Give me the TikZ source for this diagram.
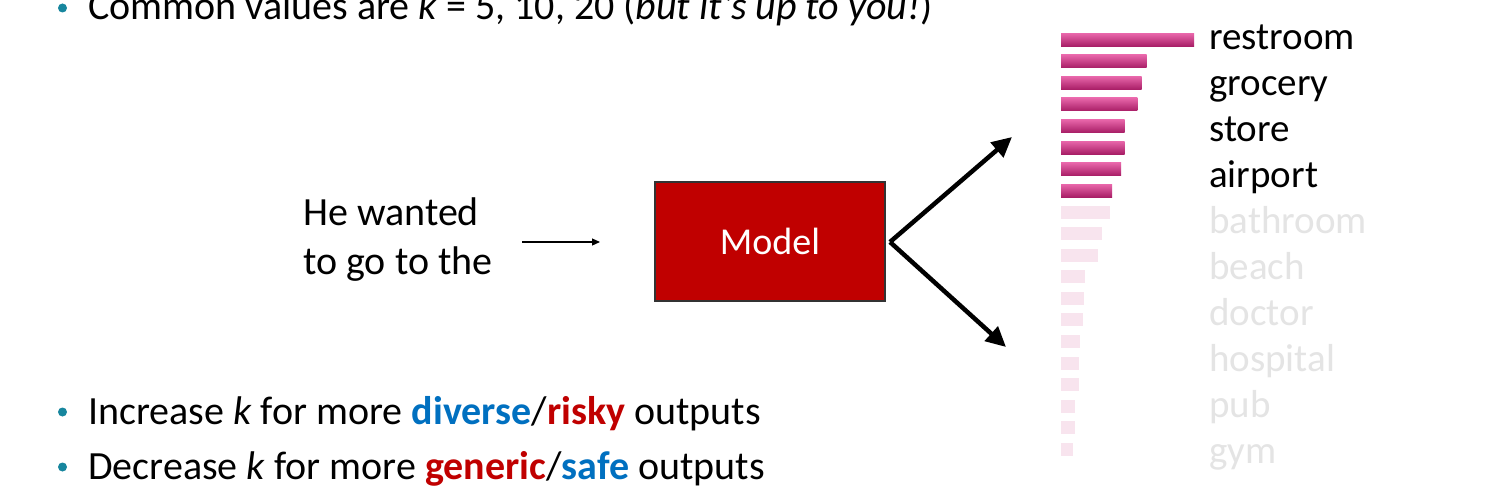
\documentclass[tikz,border=0pt]{standalone}
\usepackage{fontspec}
\setmainfont{Carlito}
\usetikzlibrary{arrows.meta}
\definecolor{bulc}{HTML}{17869E}
\definecolor{myblue}{HTML}{0070C0}
\definecolor{myred}{HTML}{C00000}
\definecolor{barTop}{HTML}{E866AA}
\definecolor{barBot}{HTML}{A81E66}
\definecolor{barFade}{HTML}{F8E4EE}
\definecolor{lblFade}{HTML}{E4E4E4}
\begin{document}
\begin{tikzpicture}[x=1pt,y=-1pt,
  txt/.style={anchor=base west, inner sep=0pt, font=\fontsize{40}{48}\selectfont},
  lbl/.style={anchor=base west, inner sep=0pt, font=\fontsize{39}{47}\selectfont},
  bul/.style={circle, fill=bulc, inner sep=0pt, minimum size=9pt},
  modelbox/.style={draw=black!80, fill=myred, line width=1.5pt, minimum width=230pt, minimum height=119pt, inner sep=0pt, text=white, font=\fontsize{38}{46}\selectfont},
  bigarrow/.style={line width=4.5pt, -{Triangle[length=20pt,width=19pt]}},
  smallarrow/.style={line width=1.2pt, -{Triangle[length=8pt,width=7pt]}}
]
\useasboundingbox (0,0) rectangle (1487,497);
\fill[white] (0,0) rectangle (1487,497);

% top bullet
\node[bul] (b0) at (62.5,8) {};
\node[txt] (t0) at (88,20) {Common values are \textit{k} = 5, 10, 20 (\textit{but it’s up to you!})};

% input text
\node[anchor=north west, inner sep=0pt, align=left, font=\fontsize{40}{48.5}\selectfont] (inp) at (303,198) {He wanted\\to go to the};

% model
\node[modelbox] (model) at (770,241.5) {Model};

\coordinate (s1) at (522,242);
\coordinate (e1) at (600,242);
\draw[smallarrow] (s1) -- (e1);

\coordinate (apex) at (890,242);
\coordinate (up) at (1012,137);
\coordinate (dn) at (1006,347);
\draw[bigarrow] (apex) -- (up);
\draw[bigarrow] (apex) -- (dn);

% bars
\foreach \e [count=\i] in {1194,1146.7,1141.7,1137.3,1124.7,1124.7,1121,1112}{
  \shade[top color=barTop, bottom color=barBot] (1061,{33.3+(\i-1)*21.55}) rectangle (\e,{46.3+(\i-1)*21.55});
}
\foreach \e [count=\i from 9] in {1109.7,1102,1098,1085.3,1084.3,1083,1079.7,1078.7,1078.7,1075,1075,1072.7}{
  \fill[barFade] (1061,{33.3+(\i-1)*21.55}) rectangle (\e,{46.3+(\i-1)*21.55});
}

% labels
\node[lbl] (l1) at (1209,49.3) {restroom};
\node[lbl] (l2) at (1209,95.3) {grocery};
\node[lbl] (l3) at (1209,141.3) {store};
\node[lbl] (l4) at (1209,187.4) {airport};
\node[lbl, text=lblFade] (l5) at (1209,233.4) {bathroom};
\node[lbl, text=lblFade] (l6) at (1209,279.4) {beach};
\node[lbl, text=lblFade] (l7) at (1209,325.4) {doctor};
\node[lbl, text=lblFade] (l8) at (1209,371.4) {hospital};
\node[lbl, text=lblFade] (l9) at (1209,417.5) {pub};
\node[lbl, text=lblFade] (l10) at (1209,463.5) {gym};

% bottom bullets
\node[bul] (b1) at (62.5,412) {};
\node[txt] (t1) at (88,424) {Increase \textit{k} for more \textbf{\color{myblue}diverse}/\textbf{\color{myred}risky} outputs};
\node[bul] (b2) at (62.5,467) {};
\node[txt] (t2) at (88,479) {Decrease \textit{k} for more \textbf{\color{myred}generic}/\textbf{\color{myblue}safe} outputs};
\end{tikzpicture}
\end{document}
